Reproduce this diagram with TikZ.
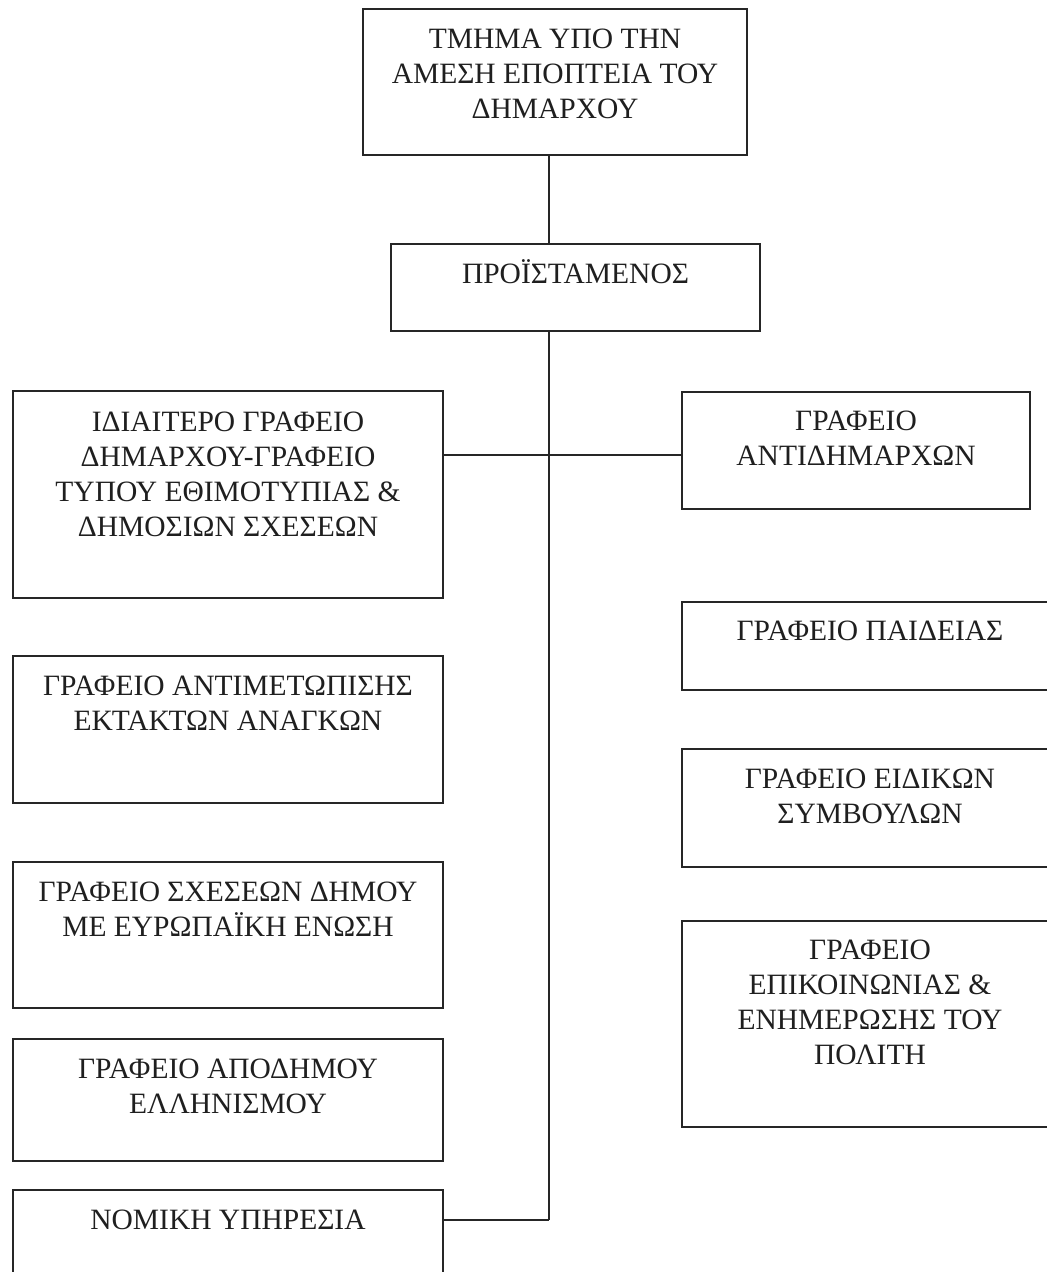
\documentclass[tikz,border=0pt]{standalone}
\usepackage{fontspec}
\setmainfont{Liberation Serif}
\usetikzlibrary{calc}
\tikzset{
  orgbox/.style={draw=black!85, line width=1.5pt, rectangle, inner sep=0pt, outer sep=0pt, anchor=north west},
  orgtxt/.style={anchor=base, align=center, inner sep=0pt, font=\fontsize{29.5}{35}\selectfont, text=black!88},
  link/.style={draw=black!85, line width=1.5pt},
}
\begin{document}
\begin{tikzpicture}[x=1pt,y=-1pt]
\useasboundingbox (0,0) rectangle (1047,1272);
\fill[white] (0,0) rectangle (1047,1272);
\clip (0,0) rectangle (1047,1272);

% top boxes (text nodes anchored at the baseline of their last line)
\node[orgbox, minimum width=384pt, minimum height=146pt] (T) at (363,9) {};
\node[orgtxt] (Tt) at ($(T.north)+(0,109)$) {ΤΜΗΜΑ ΥΠΟ ΤΗΝ\\ΑΜΕΣΗ ΕΠΟΠΤΕΙΑ ΤΟΥ\\ΔΗΜΑΡΧΟΥ};
\node[orgbox, minimum width=369pt, minimum height=87pt] (P) at (391,244) {};
\node[orgtxt] (Pt) at ($(P.north)+(0,39)$) {ΠΡΟΪΣΤΑΜΕΝΟΣ};

% left column
\node[orgbox, minimum width=430pt, minimum height=207pt] (L1) at (13,391) {};
\node[orgtxt] (L1t) at ($(L1.north)+(0,145)$) {ΙΔΙΑΙΤΕΡΟ ΓΡΑΦΕΙΟ\\ΔΗΜΑΡΧΟΥ-ΓΡΑΦΕΙΟ\\ΤΥΠΟΥ ΕΘΙΜΟΤΥΠΙΑΣ \&\\ΔΗΜΟΣΙΩΝ ΣΧΕΣΕΩΝ};
\node[orgbox, minimum width=430pt, minimum height=147pt] (L2) at (13,656) {};
\node[orgtxt] (L2t) at ($(L2.north)+(0,74)$) {ΓΡΑΦΕΙΟ ΑΝΤΙΜΕΤΩΠΙΣΗΣ\\ΕΚΤΑΚΤΩΝ ΑΝΑΓΚΩΝ};
\node[orgbox, minimum width=430pt, minimum height=146pt] (L3) at (13,862) {};
\node[orgtxt] (L3t) at ($(L3.north)+(0,74)$) {ΓΡΑΦΕΙΟ ΣΧΕΣΕΩΝ ΔΗΜΟΥ\\ΜΕ ΕΥΡΩΠΑΪΚΗ ΕΝΩΣΗ};
\node[orgbox, minimum width=430pt, minimum height=122pt] (L4) at (13,1039) {};
\node[orgtxt] (L4t) at ($(L4.north)+(0,74)$) {ΓΡΑΦΕΙΟ ΑΠΟΔΗΜΟΥ\\ΕΛΛΗΝΙΣΜΟΥ};
\node[orgbox, minimum width=430pt, minimum height=120pt] (L5) at (13,1190) {};
\node[orgtxt] (L5t) at ($(L5.north)+(0,39)$) {ΝΟΜΙΚΗ ΥΠΗΡΕΣΙΑ};

% right column
\node[orgbox, minimum width=348pt, minimum height=117pt] (R1) at (682,392) {};
\node[orgtxt] (R1t) at ($(R1.north)+(0,73)$) {ΓΡΑΦΕΙΟ\\ΑΝΤΙΔΗΜΑΡΧΩΝ};
\node[orgbox, minimum width=376pt, minimum height=88pt] (R2) at (682,602) {};
\node[orgtxt] (R2t) at ($(R2.north)+(0,38)$) {ΓΡΑΦΕΙΟ ΠΑΙΔΕΙΑΣ};
\node[orgbox, minimum width=376pt, minimum height=118pt] (R3) at (682,749) {};
\node[orgtxt] (R3t) at ($(R3.north)+(0,74)$) {ΓΡΑΦΕΙΟ ΕΙΔΙΚΩΝ\\ΣΥΜΒΟΥΛΩΝ};
\node[orgbox, minimum width=376pt, minimum height=206pt] (R4) at (682,921) {};
\node[orgtxt] (R4t) at ($(R4.north)+(0,143)$) {ΓΡΑΦΕΙΟ\\ΕΠΙΚΟΙΝΩΝΙΑΣ \&\\ΕΝΗΜΕΡΩΣΗΣ ΤΟΥ\\ΠΟΛΙΤΗ};

% trunk
\coordinate (bus) at (549,0);
\coordinate (busEnd) at (549,1220);
\draw[link] (T.south -| bus) -- (P.north -| bus);
\draw[link] (P.south -| bus) -- (busEnd);

% branches
\draw[link] ($(L1.north east)+(0,64)$) -- ($(R1.north west)+(0,63)$);
\draw[link] ($(R2.north west)+(0,59)$) -- ($(R2.north west)+(0,59)$ -| bus);
\draw[link] ($(L2.north east)+(0,63)$) -- ($(L2.north east)+(0,63)$ -| bus);
\draw[link] ($(R3.north west)+(0,59)$) -- ($(R3.north west)+(0,59)$ -| bus);
\draw[link] ($(L3.north east)+(0,63)$) -- ($(L3.north east)+(0,63)$ -| bus);
\draw[link] ($(R4.north west)+(0,117)$) -- ($(R4.north west)+(0,117)$ -| bus);
\draw[link] ($(L4.north east)+(0,34)$) -- ($(L4.north east)+(0,34)$ -| bus);
\draw[link] ($(L5.north east)+(0,30)$) -- (busEnd);
\end{tikzpicture}
\end{document}
